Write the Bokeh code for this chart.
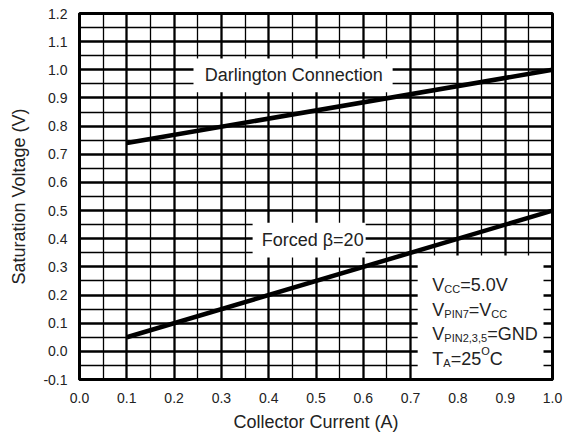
from bokeh.plotting import figure
from bokeh.models import FixedTicker, PrintfTickFormatter, Label
from bokeh.embed import file_html
from bokeh.resources import INLINE

# ---- data ----
current = [0.1, 1.0]                 # Collector Current (A)
v_darlington = [0.74, 1.0]           # Darlington Connection
v_forced = [0.05, 0.5]               # Forced beta = 20

x_ticks = [0.0, 0.1, 0.2, 0.3, 0.4, 0.5, 0.6, 0.7, 0.8, 0.9, 1.0]
y_ticks = [-0.1, 0.0, 0.1, 0.2, 0.3, 0.4, 0.5, 0.6, 0.7, 0.8, 0.9, 1.0, 1.1, 1.2]
x_minor = [round(a + 0.05, 2) for a in x_ticks[:-1]]
y_minor = [round(a + 0.05, 2) for a in y_ticks[:-1]]

title_x = "Collector Current (A)"
title_y = "Saturation Voltage (V)"
label_darl = "Darlington Connection"
label_forced = "Forced \u03b2=20"
cond_lines = [
    [("V", "n"), ("CC", "sub"), ("=5.0V", "n")],
    [("V", "n"), ("PIN7", "sub"), ("=V", "n"), ("CC", "sub")],
    [("V", "n"), ("PIN2,3,5", "sub"), ("=GND", "n")],
    [("T", "n"), ("A", "sub"), ("=25", "n"), ("O", "sup"), ("C", "n")],
]

# ---- style ----
FONT = "Liberation Sans"
TXT = "#222222"
BIG = 18
SMALL = 11
ARIAL_W = {"V": 667, "C": 722, "=": 584, "5": 556, ".": 278, "0": 556, "P": 667,
           "I": 278, "N": 722, "7": 556, "2": 556, ",": 278, "3": 556, "G": 778,
           "D": 722, "T": 611, "A": 667, "O": 778}

def text_w(s, size):
    return sum(ARIAL_W.get(c, 556) for c in s) * size / 1000.0

p = figure(width=577, height=435, x_range=(0, 1), y_range=(-0.1, 1.2),
           output_backend="svg", toolbar_location=None,
           min_border_left=79, min_border_right=25, min_border_top=13, min_border_bottom=56)
p.background_fill_color = "white"
p.border_fill_color = "white"
p.outline_line_color = "black"
p.outline_line_width = 3

for ax, ticks, minor in ((p.xaxis, x_ticks, x_minor), (p.yaxis, y_ticks, y_minor)):
    ax.ticker = FixedTicker(ticks=ticks, minor_ticks=minor)
    ax.formatter = PrintfTickFormatter(format="%.1f")
    ax.major_tick_line_color = None
    ax.minor_tick_line_color = None
    ax.axis_line_color = "black"
    ax.axis_line_width = 3
    ax.major_label_text_font = FONT
    ax.major_label_text_font_size = "14px"
    ax.major_label_text_color = TXT
    ax.axis_label_text_font = FONT
    ax.axis_label_text_font_size = "18px"
    ax.axis_label_text_font_style = "normal"
    ax.axis_label_text_color = TXT

p.xaxis.axis_label = title_x
p.yaxis.axis_label = title_y
p.xaxis.major_label_standoff = 7
p.xaxis.axis_label_standoff = 6
p.yaxis.major_label_standoff = 6
p.yaxis.axis_label_standoff = 11

for g in (p.xgrid, p.ygrid):
    g.grid_line_color = "black"
    g.grid_line_width = 2.3
    g.grid_line_alpha = 1.0
    g.minor_grid_line_color = "black"
    g.minor_grid_line_width = 1.3

# white label boxes (annotation backgrounds)
p.quad(left=[0.241, 0.366, 0.715], right=[0.662, 0.605, 0.981],
       bottom=[0.92, 0.333, -0.1], top=[1.04, 0.457, 0.34],
       fill_color="white", line_color=None)

p.line(current, v_darlington, line_color="black", line_width=4.5)
p.line(current, v_forced, line_color="black", line_width=4.5)

p.add_layout(Label(x=0.453, y=0.98, text=label_darl, text_align="center",
                   text_baseline="middle", text_font=FONT, text_font_size="18px",
                   text_color=TXT))
p.add_layout(Label(x=0.493, y=0.394, text=label_forced, text_align="center",
                   text_baseline="middle", text_font=FONT, text_font_size="18px",
                   text_color=TXT))

start_x = 0.746
baselines = [0.234, 0.148, 0.063, -0.026]
for line, yb in zip(cond_lines, baselines):
    off = 0.0
    for s, kind in line:
        size = BIG if kind == "n" else SMALL
        yoff = 0 if kind == "n" else (-4 if kind == "sub" else 8)
        p.add_layout(Label(x=start_x, y=yb, x_offset=off, y_offset=yoff, text=s,
                           text_align="left", text_baseline="alphabetic",
                           text_font=FONT, text_font_size=f"{size}px", text_color=TXT))
        off += text_w(s, size)

open("out.html", "w").write(file_html(p, INLINE))
